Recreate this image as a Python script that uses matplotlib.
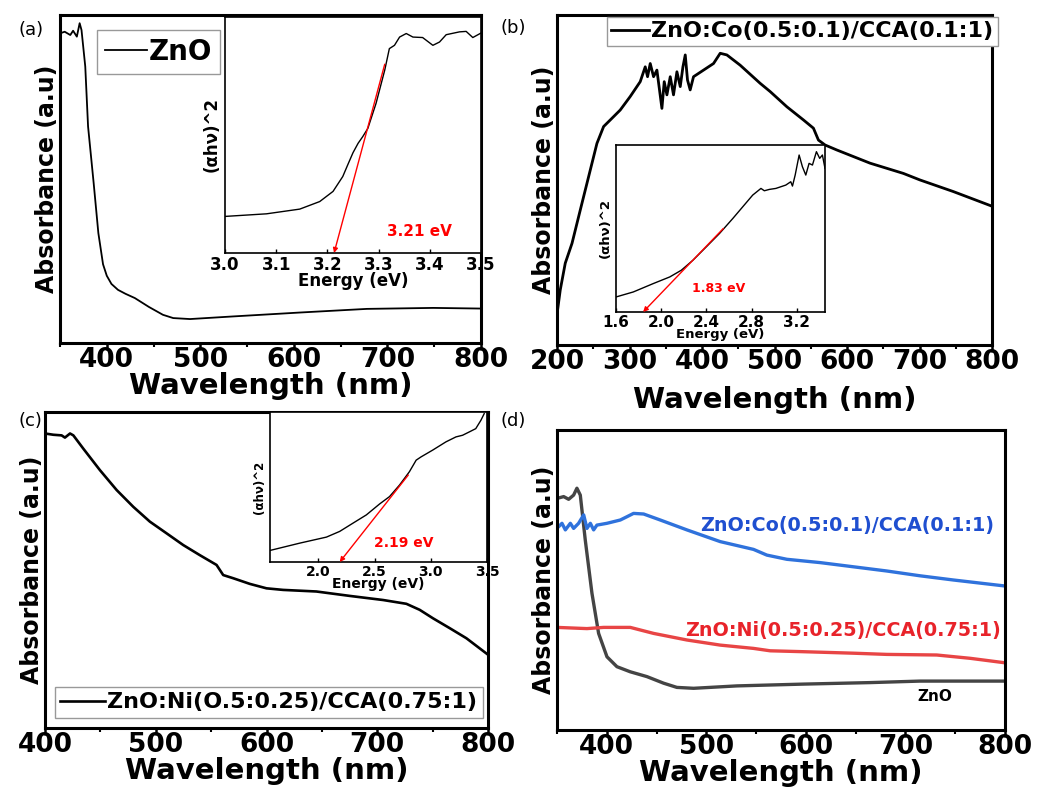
import matplotlib
matplotlib.use('Agg')
import matplotlib.pyplot as plt
from matplotlib.ticker import MultipleLocator

plt.rcParams['font.family'] = ['DejaVu Sans']
plt.rcParams['font.weight'] = 'bold'
plt.rcParams['axes.labelweight'] = 'bold'

# (a) ZnO
a_wl = [350, 355, 361, 364, 368, 371, 373, 377, 380, 386, 391, 396, 400, 405, 412, 420,
        430, 445, 460, 471, 489, 535, 607, 678, 749, 800]
a_abs = [0.944, 0.949, 0.939, 0.952, 0.934, 0.975, 0.954, 0.843, 0.66, 0.487, 0.335, 0.240,
         0.205, 0.180, 0.162, 0.150, 0.137, 0.110, 0.086, 0.076, 0.073, 0.081, 0.093, 0.104,
         0.107, 0.105]
a_en = [3.0, 3.081, 3.146, 3.185, 3.211, 3.23, 3.24, 3.25, 3.26, 3.269, 3.279, 3.295, 3.312,
        3.321, 3.331, 3.341, 3.354, 3.367, 3.386, 3.406, 3.419, 3.432, 3.458, 3.471, 3.484, 3.5]
a_tauc = [0.155, 0.166, 0.186, 0.218, 0.261, 0.324, 0.375, 0.425, 0.465, 0.493, 0.528, 0.634,
          0.775, 0.866, 0.880, 0.915, 0.930, 0.915, 0.913, 0.880, 0.894, 0.925, 0.937, 0.939,
          0.913, 0.932]
a_fit_x = [3.213, 3.312]
a_fit_y = [0.0, 0.80]
a_gap = '3.21 eV'

# (b) ZnO:Co
b_wl = [200.8, 204.5, 211.4, 220.7, 232.1, 243.6, 255.1, 264.3, 273.5, 287.2, 301, 314.8,
        321.7, 324.9, 328.6, 333.2, 337.8, 341.4, 344.7, 347.9, 351.6, 356.2, 360.7, 365.4,
        370, 373.7, 376.9, 380, 383.7, 388.3, 402.1, 415.9, 425.1, 434.3, 452.6, 480.2,
        494, 517, 539.9, 553.7, 560.6, 569.8, 585.9, 631.8, 677.7, 700.8, 746.6, 799.5]
b_abs = [0.106, 0.167, 0.248, 0.308, 0.409, 0.51, 0.611, 0.662, 0.682, 0.712, 0.753, 0.798,
         0.843, 0.813, 0.853, 0.813, 0.833, 0.773, 0.717, 0.798, 0.758, 0.813, 0.758, 0.828,
         0.783, 0.843, 0.879, 0.803, 0.773, 0.813, 0.833, 0.853, 0.884, 0.879, 0.848, 0.793,
         0.768, 0.722, 0.682, 0.657, 0.621, 0.606, 0.591, 0.551, 0.520, 0.5, 0.465, 0.421]
b_en = [1.6, 1.753, 1.929, 2.076, 2.178, 2.281, 2.399, 2.516, 2.634, 2.722, 2.81, 2.883,
        2.913, 2.957, 3.015, 3.103, 3.147, 3.162, 3.186, 3.221, 3.25, 3.28, 3.309, 3.339,
        3.374, 3.403, 3.427, 3.45]
b_tauc = [0.09, 0.12, 0.17, 0.21, 0.25, 0.31, 0.39, 0.47, 0.56, 0.63, 0.70, 0.74,
          0.726, 0.734, 0.74, 0.76, 0.78, 0.754, 0.82, 0.94, 0.87, 0.82, 0.89, 0.88,
          0.96, 0.92, 0.94, 0.86]
b_fit_x = [1.84, 2.55]
b_fit_y = [0.0, 0.50]
b_gap = '1.83 eV'

# (c) ZnO:Ni
c_wl = [400, 407.5, 415, 418, 422.6, 425.6, 434.6, 449.6, 464.7, 479.7, 494.7, 509.8, 524.8,
        539.8, 554.9, 560.9, 569.9, 585, 600, 615, 645, 675.2, 705.3, 726.3, 738.3, 750.4,
        765.4, 780.5, 800]
c_abs = [0.932, 0.928, 0.926, 0.919, 0.932, 0.926, 0.884, 0.816, 0.753, 0.7, 0.653, 0.616,
         0.579, 0.547, 0.516, 0.484, 0.474, 0.456, 0.442, 0.437, 0.432, 0.418, 0.405, 0.393,
         0.374, 0.347, 0.316, 0.284, 0.232]
c_en = [1.57, 1.836, 2.072, 2.19, 2.308, 2.427, 2.545, 2.633, 2.722, 2.81, 2.87, 2.914,
        3.017, 3.135, 3.224, 3.283, 3.342, 3.4, 3.446, 3.475]
c_tauc = [0.077, 0.126, 0.166, 0.204, 0.259, 0.314, 0.387, 0.436, 0.513, 0.602, 0.679, 0.701,
          0.746, 0.801, 0.834, 0.845, 0.867, 0.889, 0.945, 0.989]
c_fit_x = [2.19, 2.80]
c_fit_y = [0.0, 0.58]
c_gap = '2.19 eV'

# (d) comparison
d_zno_wl = [350, 356.7, 361.7, 366.7, 370, 373.4, 378.4, 385.1, 391.8, 400.2, 410.2, 423.6,
            440.3, 457.1, 470.4, 487.2, 530.7, 597.6, 664.5, 714.7, 800]
d_zno = [0.772, 0.778, 0.769, 0.783, 0.806, 0.783, 0.633, 0.456, 0.322, 0.244, 0.211, 0.194,
         0.178, 0.156, 0.142, 0.139, 0.147, 0.153, 0.158, 0.163, 0.163]
d_co_wl = [351.7, 355, 358.4, 363.4, 366.7, 371.7, 376.8, 380.1, 383.5, 386.8, 390.1, 400.2,
           413.6, 420.3, 426.9, 437, 453.7, 480.5, 513.9, 547.4, 560.8, 580.9, 614.3, 647.8,
           681.3, 714.7, 748.2, 800]
d_co = [0.678, 0.689, 0.667, 0.689, 0.672, 0.689, 0.717, 0.672, 0.689, 0.667, 0.683, 0.689,
        0.7, 0.711, 0.722, 0.72, 0.7, 0.667, 0.628, 0.602, 0.583, 0.569, 0.558, 0.544,
        0.53, 0.514, 0.5, 0.48]
d_ni_wl = [350, 380.1, 396.8, 423.6, 447, 480.5, 513.9, 547.4, 564.1, 597.6, 647.8, 681.3,
           731.4, 764.9, 800]
d_ni = [0.342, 0.338, 0.342, 0.342, 0.322, 0.3, 0.283, 0.272, 0.264, 0.261, 0.256, 0.252,
        0.25, 0.239, 0.224]

name_zno = 'ZnO'
name_co = 'ZnO:Co(0.5:0.1)/CCA(0.1:1)'
name_ni = 'ZnO:Ni(O.5:0.25)/CCA(0.75:1)'
name_ni_d = 'ZnO:Ni(0.5:0.25)/CCA(0.75:1)'

W, H = 1039, 789
fig = plt.figure(figsize=(W / 100, H / 100), dpi=100)


def px_axes(l, t, r, b):
    return fig.add_axes([l / W, 1 - b / H, (r - l) / W, (b - t) / H])


def style_main(ax, xlim, xpad=-1, lw=2.2):
    ax.set_xlim(*xlim)
    ax.set_ylim(0, 1)
    ax.set_yticks([])
    ax.xaxis.set_major_locator(MultipleLocator(100))
    ax.xaxis.set_minor_locator(MultipleLocator(50))
    ax.tick_params(axis='x', which='major', direction='out', length=5, width=1.8,
                   labelsize=19, pad=-2)
    ax.tick_params(axis='x', which='minor', direction='out', length=3, width=1.5)
    for s in ax.spines.values():
        s.set_linewidth(lw)
    ax.set_xlabel('Wavelength (nm)', fontsize=21, labelpad=xpad)
    ax.set_ylabel('Absorbance (a.u)', fontsize=17, labelpad=1)


def style_inset(ax, xlim, ticks, tsize, lsize, ysize):
    ax.set_xlim(*xlim)
    ax.set_ylim(0, 1)
    ax.set_yticks([])
    ax.set_xticks(ticks)
    ax.tick_params(axis='x', direction='in', length=3, width=1, labelsize=tsize, pad=2)
    for s in ax.spines.values():
        s.set_linewidth(1.2)
    ax.set_xlabel('Energy (eV)', fontsize=lsize, labelpad=-1)
    ax.set_ylabel('(αhν)^2', fontsize=ysize, labelpad=3)


def tangent(ax, fx, fy, gap, tx, ty, size):
    ax.annotate('', xy=(fx[0], fy[0]), xytext=(fx[1], fy[1]),
                arrowprops=dict(arrowstyle='-|>', color='red', lw=1.0, mutation_scale=7,
                                shrinkA=0, shrinkB=0))
    ax.text(tx, ty, gap, color='red', fontsize=size, ha='center', va='center')


# ---- (a)
ax = px_axes(60, 15, 481, 343)
ax.plot(a_wl, a_abs, color='black', lw=1.3, label=name_zno)
style_main(ax, (350, 800))
ax.legend(loc='upper left', bbox_to_anchor=(0.088, 0.955), borderaxespad=0, fontsize=20,
          handlelength=1.5, handletextpad=0.05, fancybox=False, edgecolor='#999999',
          framealpha=1, borderpad=0.3)
ins = px_axes(225, 17, 481, 253)
ins.plot(a_en, a_tauc, color='black', lw=1.0)
style_inset(ins, (3.0, 3.5), [3.0, 3.1, 3.2, 3.3, 3.4, 3.5], 12, 12, 12)
tangent(ins, a_fit_x, a_fit_y, a_gap, 3.38, 0.09, 11)
fig.text(18 / W, 1 - 30 / H, '(a)', fontsize=13, fontweight='normal', va='center')

# ---- (b)
ax = px_axes(557, 15, 992, 345)
ax.plot(b_wl, b_abs, color='black', lw=2.0, label=name_co)
style_main(ax, (200, 800), xpad=8)
ax.legend(loc='upper left', bbox_to_anchor=(0.115, 0.994), borderaxespad=0, fontsize=16,
          handlelength=1.7, handletextpad=0.1, fancybox=False, edgecolor='#999999',
          framealpha=1, borderpad=0.2)
ins = px_axes(616, 145, 825, 312)
ins.plot(b_en, b_tauc, color='black', lw=1.0)
style_inset(ins, (1.6, 3.45), [1.6, 2.0, 2.4, 2.8, 3.2], 11, 9.5, 9.5)
tangent(ins, b_fit_x, b_fit_y, b_gap, 2.51, 0.14, 9)
fig.text(500 / W, 1 - 28 / H, '(b)', fontsize=13, fontweight='normal', va='center')

# ---- (c)
ax = px_axes(45, 412, 488, 728)
ax.plot(c_wl, c_abs, color='black', lw=1.9, label=name_ni)
style_main(ax, (400, 800))
ax.legend(loc='lower left', bbox_to_anchor=(0.022, 0.032), borderaxespad=0, fontsize=16,
          handlelength=2.0, handletextpad=0.1, fancybox=False, edgecolor='#999999',
          framealpha=1, borderpad=0.25)
ins = px_axes(270, 412, 487, 562)
ins.plot(c_en, c_tauc, color='black', lw=1.0)
style_inset(ins, (1.57, 3.49), [2.0, 2.5, 3.0, 3.5], 10, 10, 8.5)
tangent(ins, c_fit_x, c_fit_y, c_gap, 2.76, 0.126, 10)
fig.text(18 / W, 1 - 421 / H, '(c)', fontsize=13, fontweight='normal', va='center')

# ---- (d)
ax = px_axes(557, 430, 1005, 730)
ax.plot(d_zno_wl, d_zno, color='#444444', lw=2.4)
ax.plot(d_co_wl, d_co, color='#2f72dc', lw=2.4)
ax.plot(d_ni_wl, d_ni, color='#e84545', lw=2.4)
style_main(ax, (350, 800))
ax.text(494, 0.683, name_co, color='#1f4fd0', fontsize=13.8, va='center')
ax.text(479, 0.333, name_ni_d, color='#e8232a', fontsize=13.8, va='center')
ax.text(730, 0.111, name_zno, color='black', fontsize=11, ha='center', va='center')
fig.text(500 / W, 1 - 421 / H, '(d)', fontsize=13, fontweight='normal', va='center')

fig.savefig('out.png', dpi=100)
